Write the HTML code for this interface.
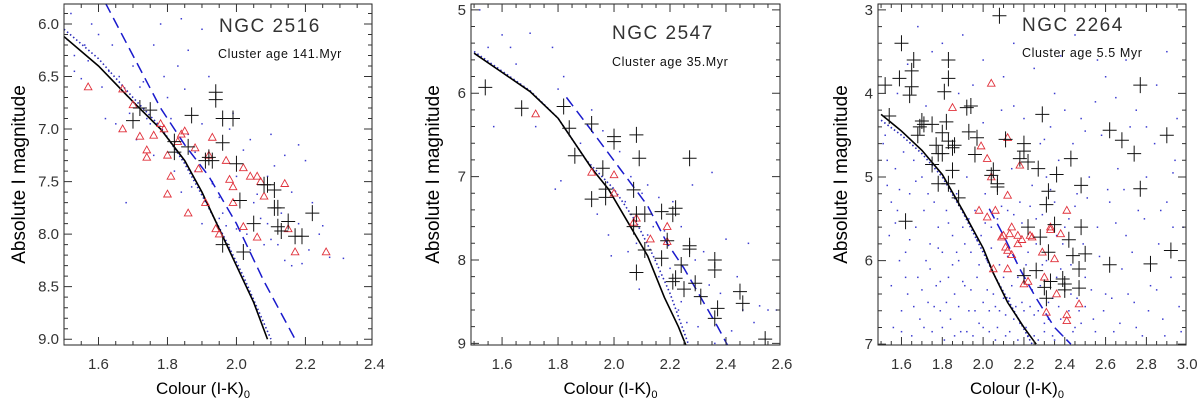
<!DOCTYPE html>
<html><head><meta charset="utf-8">
<style>
html,body{margin:0;padding:0;background:#fff;}
svg{display:block;font-family:"Liberation Sans","DejaVu Sans",sans-serif;}
</style></head>
<body>
<svg id="chart" width="1200" height="402" viewBox="0 0 1200 402" xmlns="http://www.w3.org/2000/svg"></svg>
<script>
// ---------- Panel 1: NGC 2516 ----------
const p1Solid=[[1.5,6.12],[1.6,6.4],[1.7,6.74],[1.78,7.0],[1.85,7.3],[1.9,7.6],[1.95,7.95],[2.0,8.3],[2.05,8.65],[2.09,9.0]];
const p1Dotted=[[1.5,6.05],[1.6,6.33],[1.7,6.7],[1.78,6.98],[1.85,7.33],[1.9,7.63],[1.96,8.0],[2.02,8.4],[2.1,9.0]];
const p1Dashed=[[1.62,5.8],[1.7,6.3],[1.78,6.8],[1.85,7.15],[1.92,7.45],[2.0,7.9],[2.08,8.45],[2.17,9.0]];
const p1Cross=[[1.70,6.92],[1.72,6.80],[1.75,6.82],[1.87,6.87],[1.94,6.65],[1.94,6.72],[1.96,6.9],[1.99,6.9],[1.96,7.13],[1.82,7.12],[1.82,7.22],[1.86,7.17],[1.91,7.3],[1.92,7.27],[1.93,7.3],[2.00,7.33],[2.08,7.53],[2.09,7.53],[2.11,7.58],[2.01,7.68],[2.11,7.75],[2.12,7.75],[2.12,7.93],[2.13,7.97],[2.15,7.88],[2.05,7.9],[2.17,8.02],[2.19,8.02],[2.22,7.8],[1.96,8.1],[2.02,8.17]];
const p1Tri=[[1.57,6.6],[1.67,6.62],[1.70,6.77],[1.67,7.0],[1.72,7.07],[1.76,7.06],[1.74,7.2],[1.74,7.27],[1.78,6.95],[1.79,7.0],[1.80,7.25],[1.81,7.45],[1.80,7.62],[1.83,7.12],[1.84,7.05],[1.85,7.02],[1.88,7.18],[1.89,7.38],[1.86,7.8],[1.92,7.25],[1.93,7.08],[1.97,7.3],[1.98,7.48],[1.99,7.55],[2.02,7.37],[2.04,7.45],[2.06,7.45],[2.07,7.5],[2.08,7.64],[1.99,7.7],[2.02,7.93],[2.06,8.03],[1.91,7.7],[1.94,7.95],[1.95,8.0],[2.14,7.52],[2.15,7.95],[2.17,8.17],[2.26,8.17]];
const p1Dots=[[1.52,5.9],[1.51,6.15],[1.53,6.3],[1.55,6.52],[1.56,6.2],[1.58,6.0],[1.6,6.1],[1.62,6.9],[1.63,6.45],[1.64,6.2],[1.65,6.95],[1.66,6.5],[1.68,7.7],[1.7,6.4],[1.72,6.6],[1.73,6.55],[1.74,6.9],[1.76,6.2],[1.78,6.0],[1.79,6.5],[1.8,6.7],[1.81,6.9],[1.83,6.4],[1.84,5.95],[1.85,6.62],[1.86,6.25],[1.87,7.55],[1.88,7.4],[1.9,6.05],[1.9,6.95],[1.92,6.5],[1.93,7.52],[1.95,7.65],[1.96,7.8],[1.98,7.0],[1.99,6.85],[2.0,7.45],[2.02,7.2],[2.03,8.0],[2.04,7.1],[2.05,7.7],[2.06,7.62],[2.07,7.85],[2.08,8.1],[2.09,7.45],[2.1,7.05],[2.1,8.05],[2.11,7.35],[2.13,7.8],[2.14,8.25],[2.16,7.6],[2.18,7.9],[2.19,8.28],[2.2,7.3],[2.22,7.7],[2.24,8.0],[2.25,7.92],[2.27,8.22],[2.31,8.23],[1.97,7.92],[1.95,7.85],[1.93,7.5],[1.88,7.22],[1.86,7.05],[1.76,7.25],[1.71,7.1],[1.53,6.45],[1.57,6.35],[1.61,6.6],[1.69,6.85],[1.75,6.95],[1.82,7.4],[1.84,7.6],[1.9,7.9],[1.98,8.15],[2.0,7.95],[2.04,8.15],[2.09,7.9],[2.12,8.1],[2.16,8.3],[2.21,8.15],[2.14,7.25],[2.18,7.15]];

// ---------- Panel 2: NGC 2547 ----------
const p2Solid=[[1.5,5.52],[1.6,5.75],[1.7,5.98],[1.8,6.3],[1.86,6.6],[1.92,6.9],[1.98,7.15],[2.05,7.55],[2.12,7.95],[2.18,8.45],[2.23,8.8],[2.26,9.05]];
const p2Dotted=[[1.5,5.5],[1.7,5.97],[1.8,6.3],[1.9,6.8],[2.0,7.15],[2.08,7.55],[2.14,7.95],[2.2,8.4],[2.27,9.05]];
const p2Dashed=[[1.83,6.05],[1.92,6.45],[2.02,6.9],[2.12,7.35],[2.19,7.8],[2.25,8.1],[2.31,8.45],[2.37,8.8],[2.41,9.05]];
const p2Cross=[[1.54,5.93],[1.67,6.18],[1.82,6.16],[1.84,6.42],[1.92,6.37],[1.86,6.75],[1.96,6.9],[1.97,7.15],[1.97,7.25],[1.92,7.27],[2.0,6.52],[2.0,6.58],[2.08,6.5],[2.09,6.78],[2.07,7.16],[2.08,7.45],[2.11,7.45],[2.17,7.42],[2.21,7.45],[2.22,7.38],[2.07,7.6],[2.11,7.88],[2.17,7.98],[2.19,7.77],[2.24,8.06],[2.27,7.83],[2.27,7.87],[2.22,8.22],[2.21,8.26],[2.25,8.35],[2.29,8.28],[2.31,8.44],[2.08,8.15],[2.27,6.78],[2.36,8.0],[2.36,8.12],[2.37,8.58],[2.36,8.7],[2.45,8.38],[2.46,8.52],[2.54,8.95]];
const p2Tri=[[1.72,6.25],[1.92,6.95],[2.0,6.98],[2.0,7.2],[2.07,7.55],[2.08,7.5],[2.13,7.75],[2.19,7.6],[2.19,7.78]];
const p2Dots=[[1.52,5.0],[1.55,5.45],[1.6,5.3],[1.63,5.45],[1.57,6.4],[1.65,5.65],[1.7,5.28],[1.78,5.45],[1.8,5.95],[1.82,5.8],[1.79,7.15],[1.81,7.05],[1.72,6.4],[1.88,6.6],[1.92,6.2],[1.94,7.45],[1.96,6.45],[1.98,7.7],[1.99,7.95],[2.02,6.7],[2.04,7.3],[2.06,7.0],[2.08,7.8],[2.09,8.35],[2.1,7.2],[2.12,7.1],[2.14,7.6],[2.16,7.25],[2.18,7.65],[2.2,8.1],[2.21,7.3],[2.23,8.6],[2.24,7.6],[2.26,8.75],[2.28,7.1],[2.29,8.0],[2.3,8.8],[2.32,7.9],[2.34,8.3],[2.35,6.95],[2.36,9.0],[2.38,8.4],[2.4,7.75],[2.42,8.85],[2.44,8.2],[2.46,8.6],[2.48,7.8],[2.5,8.75],[2.52,8.55],[2.55,8.6],[2.58,8.6],[2.12,7.7],[2.16,8.2],[2.05,7.9],[2.24,8.5]];

// ---------- Panel 3: NGC 2264 ----------
const p3Solid=[[1.5,4.25],[1.6,4.45],[1.7,4.68],[1.8,4.97],[1.9,5.4],[2.0,5.85],[2.05,6.15],[2.12,6.5],[2.2,6.8],[2.26,7.0]];
const p3Dotted=[[1.5,4.32],[1.6,4.5],[1.7,4.72],[1.8,5.0],[1.9,5.42],[2.0,5.9],[2.06,6.2],[2.14,6.55],[2.24,7.0]];
const p3Dashed=[[2.03,5.38],[2.1,5.7],[2.18,6.1],[2.26,6.45],[2.35,6.8],[2.43,7.0]];
const p3Cross=[[1.52,3.9],[1.54,4.27],[1.60,3.4],[1.59,3.82],[1.66,3.6],[1.65,3.73],[1.65,3.92],[1.64,4.02],[1.70,4.33],[1.69,4.4],[1.71,4.37],[1.68,4.5],[1.75,4.37],[1.77,4.62],[1.78,4.72],[1.80,4.72],[1.75,4.85],[1.78,5.08],[1.83,5.08],[1.62,5.53],[1.83,3.6],[1.83,3.82],[1.81,3.98],[1.82,4.34],[1.80,4.47],[1.83,4.57],[1.85,4.65],[1.86,4.62],[1.85,4.92],[1.88,5.25],[1.92,4.17],[1.94,4.15],[1.93,4.46],[1.97,4.53],[1.96,4.73],[2.05,4.92],[2.04,4.98],[2.07,5.08],[2.07,5.12],[2.08,3.07],[2.11,4.55],[2.20,4.6],[2.20,4.69],[2.18,4.78],[2.22,4.82],[2.27,4.9],[2.29,4.25],[2.32,5.17],[2.31,5.33],[2.36,4.97],[2.43,4.78],[2.48,5.1],[2.22,5.6],[2.28,5.72],[2.35,5.57],[2.42,5.75],[2.44,5.94],[2.48,5.6],[2.5,5.92],[2.32,5.9],[2.26,6.12],[2.20,6.18],[2.3,6.32],[2.33,6.25],[2.31,6.45],[2.39,6.22],[2.4,6.28],[2.4,6.35],[2.47,6.1],[2.47,6.33],[2.62,4.44],[2.68,4.56],[2.74,4.72],[2.77,3.9],[2.77,5.14],[2.62,6.05],[2.82,6.04],[2.92,5.88],[2.9,4.5]];
const p3Tri=[[2.04,3.88],[1.85,4.17],[2.12,4.53],[1.99,4.63],[2.02,4.78],[2.18,4.86],[2.04,5.0],[2.12,5.22],[1.98,5.4],[2.06,5.4],[2.02,5.48],[2.14,5.6],[2.09,5.72],[2.10,5.7],[2.11,5.84],[2.12,5.88],[2.14,5.93],[2.13,5.68],[2.17,5.7],[2.17,5.8],[2.19,5.75],[2.23,5.7],[2.24,5.72],[2.29,5.9],[2.33,5.6],[2.33,5.63],[2.38,5.68],[2.35,5.98],[2.41,5.4],[2.05,6.1],[2.12,6.1],[2.2,6.28],[2.22,6.25],[2.3,6.2],[2.31,6.62],[2.36,6.4],[2.41,6.65],[2.41,6.72],[2.47,6.52]];
const p3Dots=[[1.52,4.5],[1.53,5.1],[1.54,5.7],[1.55,6.3],[1.56,6.8],[1.57,4.9],[1.58,5.4],[1.59,6.0],[1.6,6.6],[1.61,4.7],[1.62,5.9],[1.63,6.4],[1.64,5.2],[1.65,6.9],[1.66,4.8],[1.67,5.6],[1.68,6.2],[1.69,6.7],[1.7,5.0],[1.71,5.4],[1.72,6.0],[1.73,6.5],[1.74,5.8],[1.75,6.85],[1.76,5.3],[1.77,6.3],[1.78,5.6],[1.79,6.6],[1.8,5.9],[1.81,6.95],[1.82,5.4],[1.83,6.2],[1.84,6.7],[1.85,5.7],[1.86,6.4],[1.87,5.2],[1.88,6.0],[1.89,6.85],[1.9,5.6],[1.91,6.3],[1.92,5.0],[1.93,6.6],[1.94,5.9],[1.95,6.9],[1.96,5.4],[1.97,6.2],[1.98,6.75],[1.99,5.7],[2.0,6.5],[2.01,5.2],[2.02,6.0],[2.03,6.85],[2.04,5.6],[2.05,6.4],[2.06,6.95],[2.07,5.5],[2.08,6.6],[2.09,4.2],[2.1,6.2],[2.11,6.9],[2.12,5.4],[2.13,6.45],[2.14,4.9],[2.15,6.7],[2.16,6.0],[2.17,6.95],[2.18,5.3],[2.19,6.5],[2.2,4.3],[2.21,6.8],[2.22,5.9],[2.23,6.55],[2.24,5.1],[2.25,6.9],[2.26,5.5],[2.27,6.6],[2.28,4.6],[2.29,6.05],[2.3,6.75],[2.31,5.0],[2.32,6.5],[2.33,4.4],[2.34,6.9],[2.35,5.3],[2.36,6.2],[2.37,4.8],[2.38,6.7],[2.39,5.8],[2.4,4.2],[2.41,6.95],[2.42,5.5],[2.43,6.4],[2.44,4.6],[2.45,6.8],[2.46,5.2],[2.47,6.6],[2.48,4.3],[2.5,6.2],[2.52,5.0],[2.54,6.7],[2.56,5.6],[2.58,4.5],[2.6,6.4],[2.62,5.3],[2.64,6.85],[2.66,4.9],[2.68,6.1],[2.7,5.7],[2.72,4.4],[2.74,6.5],[2.76,5.4],[2.78,6.9],[2.8,5.0],[2.82,6.3],[2.84,4.6],[2.86,5.8],[2.88,6.7],[2.9,5.3],[2.92,6.2],[2.94,4.8],[2.96,6.55],[2.98,5.6],[1.68,3.2],[1.75,3.5],[1.9,3.3],[2.0,3.6],[2.15,3.4],[2.25,3.7],[2.45,3.3],[2.6,3.8],[2.7,3.6],[2.85,3.9],[1.58,4.0],[1.95,3.9],[2.35,4.0],[2.55,4.1],[2.75,4.2],[2.95,4.3],
[1.51,4.6],[1.53,4.8],[1.55,5.3],[1.57,5.55],[1.59,5.15],[1.6,6.85],[1.62,6.2],[1.64,5.75],[1.66,6.55],[1.67,5.05],[1.7,6.35],[1.71,6.8],[1.73,5.2],[1.74,6.1],[1.76,6.55],[1.78,5.85],[1.79,6.25],[1.8,6.8],[1.82,6.5],[1.83,5.55],[1.85,6.05],[1.86,6.9],[1.87,5.9],[1.88,6.55],[1.9,6.25],[1.91,5.8],[1.92,6.85],[1.93,5.5],[1.94,6.35],[1.96,6.6],[1.97,5.75],[1.98,6.05],[2.0,6.8],[2.01,5.55],[2.02,6.35],[2.03,6.6],[2.04,5.85],[2.06,6.55],[2.07,6.8],[2.08,6.05],[2.09,5.35],[2.1,6.45],[2.11,6.65],[2.12,5.95],[2.13,6.85],[2.14,6.3],[2.15,5.45],[2.16,6.55],[2.17,6.2],[2.18,6.75],[2.19,5.55],[2.2,6.6],[2.21,6.05],[2.22,6.9],[2.23,5.35],[2.24,6.35],[2.25,6.65],[2.26,5.8],[2.27,6.95],[2.28,6.3],[2.29,5.45],[2.3,6.85],[2.31,6.0],[2.32,6.7],[2.33,5.15],[2.34,6.45],[2.35,6.95],[2.36,5.7],[2.37,6.55],[2.38,6.1],[2.39,6.9],[2.4,5.6],[2.42,6.6],[2.43,6.05],[2.44,6.85],[2.45,5.35],[2.46,6.45],[2.48,6.75],[2.49,5.8],[2.5,6.55],[2.51,5.25],[2.53,6.35],[2.55,6.85],[2.57,5.95],[2.59,6.6],[2.61,5.15],[2.63,6.45],[2.65,5.55],[2.67,6.75],[2.69,5.15],[2.71,6.4],[2.73,5.9],[2.75,6.8],[2.79,5.5],[2.81,6.6],[2.85,6.35],[2.87,5.4],[2.89,6.9],[2.93,5.6],[2.97,6.85],[1.72,4.15],[1.88,4.0],[2.0,4.35],[2.15,4.15],[2.3,4.55],[2.5,4.45],[2.65,4.05],[2.8,4.4],[2.93,4.95],[1.63,3.65],[1.8,3.4],[2.1,3.8],[2.38,3.55],[2.56,3.6],[2.9,3.5]];

const svg=document.getElementById('chart');
const NS='http://www.w3.org/2000/svg';
function mk(tag,attrs,parent){const e=document.createElementNS(NS,tag);for(const k in attrs)e.setAttribute(k,attrs[k]);(parent||svg).appendChild(e);return e;}

const panels=[
 {key:'ngc2516',L:64,R:372,T:4,B:345,x0:1.5,x1:2.393,y0:5.81,y1:9.055,xt:[1.6,1.8,2.0,2.2,2.4],xlab:['1.6','1.8','2.0','2.2','2.4'],xminor:0.05,yt:[6,6.5,7,7.5,8,8.5,9],ylab:['6.0','6.5','7.0','7.5','8.0','8.5','9.0'],yminor:0.1,
  title:'NGC 2516',age:'Cluster age 141.Myr',tx:219,ty:32,ax:218,ay:58,ylx:18,
  solid:p1Solid,dotted:p1Dotted,dashed:p1Dashed,cross:p1Cross,tri:p1Tri,dots:p1Dots},
 {key:'ngc2547',L:471,R:780,T:4,B:345,x0:1.489,x1:2.593,y0:4.93,y1:9.02,xt:[1.6,1.8,2.0,2.2,2.4,2.6],xlab:['1.6','1.8','2.0','2.2','2.4','2.6'],xminor:0.05,yt:[5,6,7,8,9],ylab:['5','6','7','8','9'],yminor:0.2,
  title:'NGC 2547',age:'Cluster age  35.Myr',tx:612,ty:39,ax:612,ay:66,ylx:432,
  solid:p2Solid,dotted:p2Dotted,dashed:p2Dashed,cross:p2Cross,tri:p2Tri,dots:p2Dots},
 {key:'ngc2264',L:878,R:1186,T:4,B:345,x0:1.485,x1:2.994,y0:2.93,y1:7.01,xt:[1.6,1.8,2.0,2.2,2.4,2.6,2.8,3.0],xlab:['1.6','1.8','2.0','2.2','2.4','2.6','2.8','3.0'],xminor:0.05,yt:[3,4,5,6,7],ylab:['3','4','5','6','7'],yminor:0.2,
  title:'NGC 2264',age:'Cluster age  5.5 Myr',tx:1022,ty:31,ax:1022,ay:57,ylx:840,
  solid:p3Solid,dotted:p3Dotted,dashed:p3Dashed,cross:p3Cross,tri:p3Tri,dots:p3Dots}
];

panels.forEach((p,pi)=>{
  const g=mk('g',{});
  
  
  const X=v=>p.L+(v-p.x0)/(p.x1-p.x0)*(p.R-p.L);
  const Y=v=>p.T+(v-p.y0)/(p.y1-p.y0)*(p.B-p.T);
  const cid='clip'+pi;
  const cp=mk('clipPath',{id:cid},g);
  mk('rect',{x:p.L,y:p.T,width:p.R-p.L,height:p.B-p.T},cp);
  const data=mk('g',{'clip-path':'url(#'+cid+')'},g);
  
  
  p.dots.forEach(d=>{
    const c=mk('rect',{x:X(d[0])-0.7,y:Y(d[1])-0.7,width:1.5,height:1.5,fill:'#3b3bd0'},data);
    
    
  });
  const line=(arr,attrs,name)=>{
    const e=mk('polyline',Object.assign({points:arr.map(d=>X(d[0])+','+Y(d[1])).join(' '),fill:'none'},attrs),data);
    
    
  };
  line(p.dotted,{stroke:'#2a2ab8','stroke-width':1.6,'stroke-dasharray':'1.5 2.5'},'isochrone-dotted');
  line(p.dashed,{stroke:'#1a1acc','stroke-width':1.5,'stroke-dasharray':'11 6'},'isochrone-dashed');
  line(p.solid,{stroke:'#000','stroke-width':1.6},'isochrone-solid');
  p.tri.forEach(d=>{
    const x=X(d[0]),y=Y(d[1]);
    const t=mk('polygon',{points:`${x},${y-4} ${x-3.8},${y+2.8} ${x+3.8},${y+2.8}`,fill:'none',stroke:'#e0303a','stroke-width':0.9},data);
    
    
  });
  p.cross.forEach(d=>{
    const x=X(d[0]),y=Y(d[1]);
    const c=mk('path',{d:`M${x-7} ${y}H${x+7}M${x} ${y-8}V${y+8}`,stroke:'#111','stroke-width':1},data);
    
    
  });
  const fr=mk('rect',{x:p.L,y:p.T,width:p.R-p.L,height:p.B-p.T,fill:'none',stroke:'#222','stroke-width':1},g);
  
  
  let td='';
  for(let v=Math.ceil(p.x0/p.xminor)*p.xminor;v<=p.x1+1e-9;v+=p.xminor){
    const x=X(v);const major=p.xt.some(t=>Math.abs(t-v)<1e-6);const l=major?8:4;
    td+=`M${x} ${p.B}V${p.B-l}M${x} ${p.T}V${p.T+l}`;
  }
  for(let v=Math.ceil(p.y0/p.yminor)*p.yminor;v<=p.y1+1e-9;v+=p.yminor){
    const y=Y(v);const major=p.yt.some(t=>Math.abs(t-v)<1e-6);const l=major?8:4;
    td+=`M${p.L} ${y}H${p.L+l}M${p.R} ${y}H${p.R-l}`;
  }
  const tk=mk('path',{d:td,stroke:'#333','stroke-width':1,fill:'none'},g);
  
  
  p.xt.forEach((v,i)=>{
    const t=mk('text',{x:X(v),y:369,'text-anchor':'middle','font-size':15,fill:'#333'},g);
    t.textContent=p.xlab[i];
    
    
  });
  p.yt.forEach((v,i)=>{
    const t=mk('text',{x:p.L-5,y:Y(v)+5,'text-anchor':'end','font-size':15,fill:'#333'},g);
    t.textContent=p.ylab[i];
    
    
  });
  const xl=mk('text',{x:(p.L+p.R)/2-15,y:394,'text-anchor':'middle','font-size':17,fill:'#000'},g);
  xl.innerHTML='Colour (I-K)<tspan font-size="11" dy="4">0</tspan>';
  
  
  const yl=mk('text',{x:0,y:0,'text-anchor':'middle','font-size':19,fill:'#000',transform:`translate(${p.ylx+7},${(p.T+p.B)/2}) rotate(-90)`},g);
  yl.textContent='Absolute I magnitude';
  
  
  const tt=mk('text',{x:p.tx,y:p.ty,'font-size':19,fill:'#333','letter-spacing':'1.5'},g);
  tt.textContent=p.title;
  
  
  const at=mk('text',{x:p.ax,y:p.ay,'font-size':12.5,fill:'#111','letter-spacing':'0.6'},g);
  at.textContent=p.age;
  
  
});
</script>
</body></html>
